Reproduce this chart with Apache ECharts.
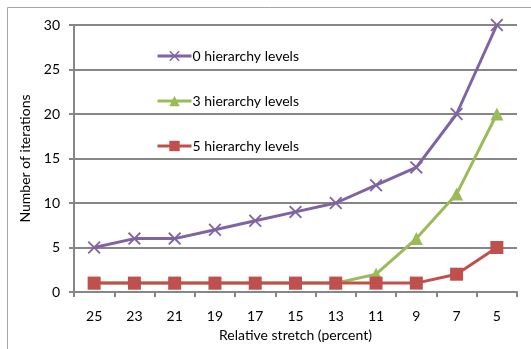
<!DOCTYPE html>
<html>
<head>
<meta charset="utf-8">
<script src="https://cdn.jsdelivr.net/npm/echarts@6/dist/echarts.min.js"></script>
<style>
  html, body { margin: 0; padding: 0; background: #fff; }
  #chart { width: 531px; height: 349px; }
</style>
</head>
<body>
<div id="chart"></div>
<script>
// data
var stretch = ['25', '23', '21', '19', '17', '15', '13', '11', '9', '7', '5'];
var level0 = [5, 6, 6, 7, 8, 9, 10, 12, 14, 20, 30];
var level3 = [1, 1, 1, 1, 1, 1, 1, 2, 6, 11, 20];
var level5 = [1, 1, 1, 1, 1, 1, 1, 1, 1, 2, 5];

var crossPath = 'path://M0,1L1,0L5,4L9,0L10,1L6,5L10,9L9,10L5,6L1,10L0,9L4,5Z';
var fontFam = 'Lato, "Open Sans", sans-serif';

var chart = echarts.init(document.getElementById('chart'));

function line(name, data, color, symbol, size) {
  return {
    name: name,
    type: 'line',
    data: data,
    symbol: symbol,
    symbolSize: size,
    showAllSymbol: true,
    lineStyle: { color: color, width: 3 },
    itemStyle: { color: color },
    emphasis: { disabled: true },
    animation: false
  };
}

var option = {
  animation: false,
  textStyle: { fontFamily: fontFam },
  graphic: [{
    type: 'rect',
    shape: { x: 7.5, y: 7.5, width: 540, height: 360 },
    style: { fill: 'none', stroke: '#a6a6a6', lineWidth: 1 }
  }],
  grid: { left: 74, right: 14, top: 25, bottom: 57 },
  legend: {
    orient: 'vertical',
    left: 151,
    top: 44,
    itemWidth: 34,
    itemHeight: 13,
    itemGap: 31,
    lineStyle: { width: 3 },
    textStyle: { fontSize: 14, color: '#000', fontFamily: fontFam, padding: [0, 0, 0, -4] },
    data: ['0 hierarchy levels', '3 hierarchy levels', '5 hierarchy levels']
  },
  xAxis: {
    type: 'category',
    data: stretch,
    boundaryGap: true,
    name: 'Relative stretch (percent)',
    nameLocation: 'middle',
    nameGap: 36,
    nameTextStyle: { fontSize: 14, color: '#000' },
    axisLine: { lineStyle: { color: '#868686', width: 2 } },
    axisTick: { show: true, length: 5, lineStyle: { color: '#868686', width: 2 } },
    axisLabel: { fontSize: 14, color: '#000', margin: 17 },
    splitLine: { show: false }
  },
  yAxis: {
    type: 'value',
    min: 0,
    max: 30,
    interval: 5,
    name: 'Number of iterations',
    nameLocation: 'middle',
    nameGap: 41,
    nameTextStyle: { fontSize: 14, color: '#000' },
    axisLine: { show: true, lineStyle: { color: '#868686', width: 2 } },
    axisTick: { show: true, length: 5, lineStyle: { color: '#868686', width: 2 } },
    axisLabel: { fontSize: 14, color: '#000', margin: 14 },
    splitLine: { show: true, lineStyle: { color: '#868686', width: 2 } }
  },
  series: [
    line('0 hierarchy levels', level0, '#8064a2', crossPath, 13),
    line('3 hierarchy levels', level3, '#9bbb59', 'triangle', 13),
    line('5 hierarchy levels', level5, '#c0504d', 'rect', 13)
  ]
};

chart.setOption(option);
</script>
</body>
</html>
